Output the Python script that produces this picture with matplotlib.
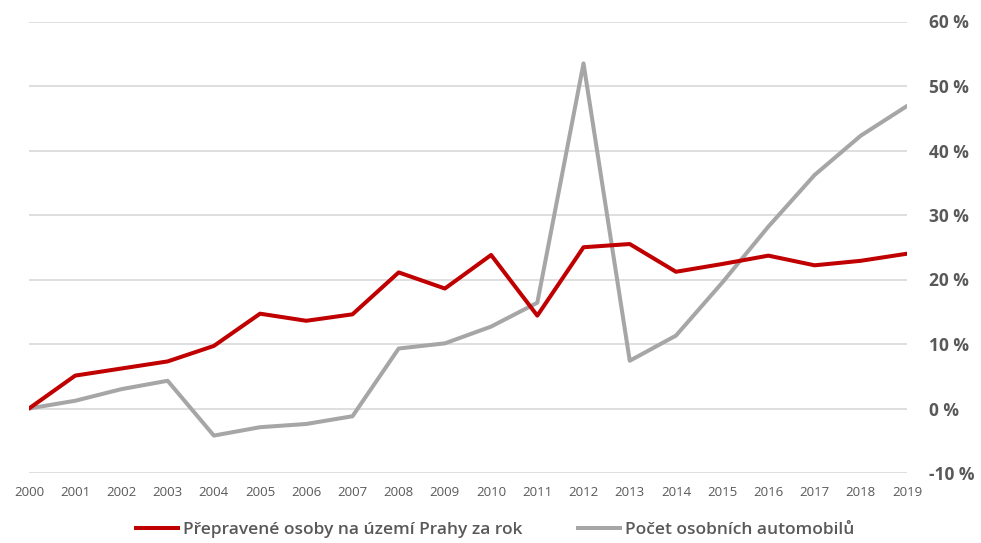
import matplotlib.pyplot as plt
from matplotlib.lines import Line2D

years = list(range(2000, 2020))
passengers = [0, 5.1, 6.2, 7.3, 9.7, 14.7, 13.6, 14.6, 21.1, 18.6,
              23.8, 14.4, 25.0, 25.5, 21.2, 22.4, 23.7, 22.2, 22.9, 24.0]
cars = [0, 1.2, 3.0, 4.3, -4.2, -2.9, -2.4, -1.2, 9.3, 10.1,
        12.7, 16.4, 53.5, 7.4, 11.3, 19.5, 28.2, 36.2, 42.3, 46.9]
y_ticks = [-10, 0, 10, 20, 30, 40, 50, 60]
labels = ["Přepravené osoby na území Prahy za rok", "Počet osobních automobilů"]

RED = "#C00000"
GREY = "#A6A6A6"
TXT = "#595959"

plt.rcParams['font.family'] = ['Open Sans', 'DejaVu Sans']

fig = plt.figure(figsize=(9.81, 5.43), dpi=100)
ax = fig.add_axes([29 / 981, 1 - 473 / 543, 878 / 981, 451.5 / 543])

ax.plot(years, cars, color=GREY, linewidth=2.9, solid_capstyle='round', zorder=3)
ax.plot(years, passengers, color=RED, linewidth=2.9, solid_capstyle='round', zorder=4)

ax.set_xlim(2000, 2019)
ax.set_ylim(-10, 60)
ax.set_yticks(y_ticks)
ax.set_yticklabels([f"{v} %" for v in y_ticks], fontsize=12.5, fontweight='bold', color=TXT)
ax.yaxis.tick_right()
ax.tick_params(axis='y', length=0, pad=16)
ax.set_xticks(years)
ax.set_xticklabels([str(y) for y in years], fontsize=9.5, color=TXT)
ax.tick_params(axis='x', length=0, pad=9)

ax.grid(axis='y', color='#D9D9D9', linewidth=1.2)
ax.set_axisbelow(True)
for s in ax.spines.values():
    s.set_visible(False)

handles = [Line2D([], [], color=RED, linewidth=2.9),
           Line2D([], [], color=GREY, linewidth=2.9)]
fig.legend(handles, labels, loc='center', bbox_to_anchor=(0.505, 1 - 530 / 543),
           ncol=2, frameon=False, handlelength=2.4, handletextpad=0.3,
           columnspacing=3.2, prop={'size': 12.5, 'weight': 'semibold'}, labelcolor=TXT)

fig.savefig("out.png", dpi=100, facecolor='white')
